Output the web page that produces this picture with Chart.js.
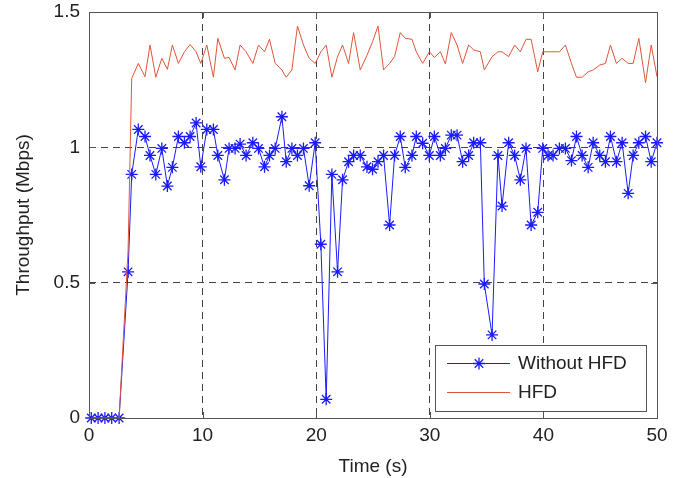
<!DOCTYPE html>
<html>
<head>
<meta charset="utf-8">
<script src="https://cdn.jsdelivr.net/npm/chart.js@4.4.1/dist/chart.umd.min.js"></script>
<style>
  html, body { margin: 0; padding: 0; background: #fff; }
  #wrap { width: 690px; height: 478px; position: relative; }
</style>
</head>
<body>
<div id="wrap"><canvas id="chart" width="690" height="478"></canvas></div>
<script>
// sample times (s), shared by both series
const times = [
  0.2, 0.8, 1.4, 2.0, 2.65, 3.44, 3.76, 4.34, 4.93, 5.37,
  5.88, 6.41, 6.90, 7.34, 7.87, 8.40, 8.90, 9.43, 9.84, 10.37,
  10.95, 11.34, 11.92, 12.33, 12.86, 13.30, 13.83, 14.42, 14.92, 15.45,
  15.89, 16.39, 16.98, 17.36, 17.86, 18.35, 18.88, 19.38, 19.91, 20.41,
  20.88, 21.38, 21.88, 22.32, 22.85, 23.29, 23.88, 24.47, 24.96, 25.44,
  25.93, 26.46, 26.90, 27.40, 27.84, 28.43, 28.81, 29.37, 29.96, 30.40,
  30.93, 31.37, 31.89, 32.40, 32.89, 33.42, 33.86, 34.45, 34.80, 35.48,
  36.00, 36.36, 36.94, 37.47, 37.97, 38.47, 38.92, 39.50, 39.94, 40.41,
  40.85, 41.41, 41.94, 42.47, 42.91, 43.41, 43.94, 44.38, 44.96, 45.46,
  45.90, 46.43, 46.93, 47.46, 47.90, 48.40, 48.99, 49.49, 50.00
];

// throughput without HFD (Mbps)
const withoutHfd = [
  0, 0, 0, 0, 0, 0.54, 0.90, 1.066, 1.04, 0.97,
  0.90, 0.996, 0.857, 0.926, 1.04, 1.017, 1.04, 1.09, 0.928, 1.066,
  1.066, 0.97, 0.88, 0.996, 0.996, 1.012, 0.97, 1.017, 0.996, 0.928,
  0.97, 0.996, 1.113, 0.947, 0.996, 0.97, 0.996, 0.858, 1.017, 0.642,
  0.069, 0.90, 0.54, 0.88, 0.947, 0.97, 0.97, 0.928, 0.919, 0.947,
  0.97, 0.713, 0.97, 1.04, 0.926, 0.97, 1.04, 1.015, 0.97, 1.04,
  0.97, 0.996, 1.045, 1.045, 0.947, 0.97, 1.017, 1.017, 0.495, 0.307,
  0.97, 0.783, 1.017, 0.97, 0.88, 0.996, 0.713, 0.76, 0.996, 0.97,
  0.97, 0.996, 0.996, 0.951, 1.04, 0.97, 0.926, 1.017, 0.97, 0.947,
  1.04, 0.947, 1.017, 0.83, 0.97, 1.017, 1.04, 0.947, 1.017
];

// throughput with HFD (Mbps)
const hfd = [
  0, 0, 0, 0, 0, 0.62, 1.255, 1.31, 1.261, 1.378,
  1.259, 1.329, 1.288, 1.378, 1.31, 1.353, 1.38, 1.353, 1.31, 1.378,
  1.259, 1.403, 1.329, 1.332, 1.286, 1.378, 1.353, 1.31, 1.378, 1.353,
  1.399, 1.31, 1.286, 1.259, 1.286, 1.448, 1.378, 1.329, 1.31, 1.353,
  1.378, 1.259, 1.335, 1.378, 1.31, 1.424, 1.286, 1.34, 1.39, 1.448,
  1.286, 1.31, 1.335, 1.424, 1.403, 1.399, 1.353, 1.31, 1.353, 1.332,
  1.353, 1.308, 1.424, 1.378, 1.31, 1.378, 1.36, 1.353, 1.286, 1.335,
  1.353, 1.353, 1.335, 1.378, 1.353, 1.399, 1.399, 1.279, 1.353, 1.353,
  1.353, 1.353, 1.378, 1.31, 1.259, 1.259, 1.279, 1.286, 1.304, 1.31,
  1.378, 1.31, 1.329, 1.31, 1.31, 1.403, 1.239, 1.378, 1.261
];

const xTicks = [0, 10, 20, 30, 40, 50];
const yTicks = [0, 0.5, 1, 1.5];
const seriesNames = ['Without HFD', 'HFD'];

const BLUE = '#1a1aff';
const RED = '#e0553a';
const FONT = "'Liberation Sans', Arial, sans-serif";

Chart.defaults.font.family = FONT;
Chart.defaults.font.size = 19;
Chart.defaults.color = '#222';

function starPath(ctx, x, y, r) {
  ctx.beginPath();
  ctx.moveTo(x - r, y); ctx.lineTo(x + r, y);
  ctx.moveTo(x, y - r); ctx.lineTo(x, y + r);
  const d = r * 0.707;
  ctx.moveTo(x - d, y - d); ctx.lineTo(x + d, y + d);
  ctx.moveTo(x - d, y + d); ctx.lineTo(x + d, y - d);
  ctx.stroke();
}

// axes box with inward ticks, and the legend inside the plot
const boxPlugin = {
  id: 'box',
  afterDatasetsDraw(chart) {
    const {ctx, chartArea: a, scales} = chart;
    ctx.save();
    ctx.strokeStyle = '#555';
    ctx.lineWidth = 1;
    ctx.strokeRect(a.left + 0.5, a.top + 0.5, a.right - a.left, a.bottom - a.top);
    ctx.beginPath();
    xTicks.forEach(v => {
      const px = Math.round(scales.x.getPixelForValue(v)) + 0.5;
      ctx.moveTo(px, a.bottom); ctx.lineTo(px, a.bottom - 6);
      ctx.moveTo(px, a.top); ctx.lineTo(px, a.top + 6);
    });
    yTicks.forEach(v => {
      const py = Math.round(scales.y.getPixelForValue(v)) + 0.5;
      ctx.moveTo(a.left, py); ctx.lineTo(a.left + 6, py);
      ctx.moveTo(a.right, py); ctx.lineTo(a.right - 6, py);
    });
    ctx.stroke();
    ctx.restore();
  },
  afterDraw(chart) {
    const {ctx, chartArea: a} = chart;
    const w = 211, h = 66;
    const x0 = a.right - 11 - w, y0 = a.bottom - 7 - h;
    ctx.save();
    ctx.fillStyle = '#fff';
    ctx.fillRect(x0, y0, w, h);
    ctx.strokeStyle = '#555';
    ctx.lineWidth = 1;
    ctx.strokeRect(x0 + 0.5, y0 + 0.5, w, h);
    const rows = [y0 + 18, y0 + 47];
    const colors = [BLUE, RED];
    rows.forEach((ry, i) => {
      ctx.strokeStyle = colors[i];
      ctx.lineWidth = 1;
      ctx.beginPath();
      ctx.moveTo(x0 + 12, ry + 0.5); ctx.lineTo(x0 + 75, ry + 0.5);
      ctx.stroke();
      if (i === 0) { ctx.lineWidth = 1.3; starPath(ctx, x0 + 44, ry + 0.5, 6); }
      ctx.fillStyle = '#222';
      ctx.font = '19px ' + FONT;
      ctx.textBaseline = 'middle';
      ctx.fillText(seriesNames[i], x0 + 83, ry + 1);
    });
    ctx.restore();
  }
};

const edgeGrid = (vals) => (c) => {
  const v = c.tick ? c.tick.value : null;
  return (v === vals[0] || v === vals[vals.length - 1]) ? 'rgba(0,0,0,0)' : '#444';
};

new Chart(document.getElementById('chart'), {
  type: 'line',
  data: {
    datasets: [
      {
        label: seriesNames[0],
        data: times.map((t, i) => ({x: t, y: withoutHfd[i]})),
        borderColor: BLUE,
        backgroundColor: BLUE,
        borderWidth: 1,
        pointStyle: 'star',
        pointRadius: 6,
        pointBorderWidth: 1.3,
        pointBorderColor: BLUE,
        tension: 0,
        clip: false,
        order: 2
      },
      {
        label: seriesNames[1],
        data: times.map((t, i) => ({x: t, y: hfd[i]})),
        borderColor: RED,
        borderWidth: 1,
        pointRadius: 0,
        tension: 0,
        order: 1
      }
    ]
  },
  options: {
    responsive: false,
    animation: false,
    events: [],
    layout: { padding: { top: 12, right: 33, left: 0, bottom: 0 } },
    plugins: { legend: { display: false }, tooltip: { enabled: false } },
    scales: {
      x: {
        type: 'linear',
        min: 0, max: 50,
        afterBuildTicks: s => { s.ticks = xTicks.map(v => ({value: v})); },
        afterFit: s => { s.height = 60; s.paddingLeft = 0; s.paddingRight = 0; },
        grid: { color: edgeGrid(xTicks), lineWidth: 1, drawTicks: false },
        border: { display: false, dash: [7, 5] },
        ticks: { padding: 6, color: '#222', maxRotation: 0, callback: v => String(v) },
        title: { display: true, text: 'Time (s)', color: '#222', padding: { top: 3, bottom: 0 } }
      },
      y: {
        min: 0, max: 1.5,
        afterBuildTicks: s => { s.ticks = yTicks.map(v => ({value: v})); },
        afterFit: s => { s.width = 89; s.paddingTop = 0; s.paddingBottom = 0; },
        grid: { color: edgeGrid(yTicks), lineWidth: 1, drawTicks: false },
        border: { display: false, dash: [7, 5] },
        ticks: { padding: 9, color: '#222', callback: v => String(v) },
        title: { display: true, text: 'Throughput (Mbps)', color: '#222', padding: { top: 12, bottom: 0 } }
      }
    }
  },
  plugins: [boxPlugin]
});
</script>
</body>
</html>
